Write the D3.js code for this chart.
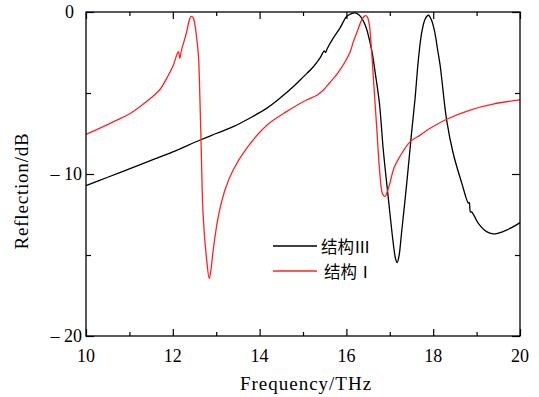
<!DOCTYPE html>
<html>
<head>
<meta charset="utf-8">
<script src="https://cdn.jsdelivr.net/npm/d3@7"></script>
<style>
  html, body { margin: 0; padding: 0; background: #fff; }
  svg { display: block; }
</style>
</head>
<body>
<svg id="chart" width="539" height="397"></svg>
<script>
// ---- data ----
const seriesNames = ["结构Ⅲ", "结构Ⅰ"];

const freqIII = [10, 10.5, 11, 11.5, 12, 12.63, 13.0, 13.39, 13.78, 14.16, 14.5, 14.78, 15.0, 15.24, 15.4, 15.49, 15.52, 15.56, 15.7, 15.85, 16.0, 16.1, 16.2, 16.3, 16.38, 16.46, 16.54, 16.6, 16.66, 16.76, 16.85, 16.97, 17.08, 17.13, 17.17, 17.21, 17.27, 17.39, 17.5, 17.58, 17.66, 17.74, 17.82, 17.89, 17.96, 18.04, 18.1, 18.16, 18.2, 18.31, 18.46, 18.66, 18.81, 18.83, 18.86, 18.89, 19.04, 19.23, 19.38, 19.5, 19.69, 19.85, 20];
const dbIII = [-10.72, -10.2, -9.68, -9.16, -8.64, -7.9, -7.5, -7.08, -6.54, -5.95, -5.25, -4.6, -4.02, -3.38, -2.8, -2.4, -2.5, -2.25, -1.6, -1.0, -0.29, -0.12, -0.05, -0.2, -0.5, -1.0, -1.83, -2.6, -3.68, -5.6, -8.52, -11.6, -14.28, -15.2, -15.47, -15.1, -13.66, -10.58, -7.49, -5.4, -2.9, -1.2, -0.4, -0.2, -0.5, -1.3, -2.3, -3.3, -4.2, -6.67, -8.72, -10.58, -11.8, -11.75, -12.35, -12.35, -13.05, -13.56, -13.7, -13.65, -13.46, -13.25, -13.0];

const freqI = [10, 10.5, 10.71, 11.0, 11.24, 11.5, 11.7, 11.9, 12.01, 12.09, 12.13, 12.16, 12.2, 12.26, 12.32, 12.37, 12.42, 12.47, 12.51, 12.55, 12.59, 12.61, 12.65, 12.7, 12.78, 12.84, 12.88, 12.93, 13.05, 13.2, 13.39, 13.7, 14.16, 14.62, 15.08, 15.31, 15.47, 15.62, 15.8, 16.08, 16.16, 16.25, 16.35, 16.41, 16.45, 16.49, 16.53, 16.58, 16.62, 16.66, 16.71, 16.77, 16.83, 16.89, 16.94, 17.0, 17.1, 17.23, 17.47, 17.7, 17.93, 18.31, 18.85, 19.38, 20];
const dbI = [-7.55, -6.95, -6.67, -6.3, -5.85, -5.3, -4.8, -3.89, -3.3, -2.65, -2.45, -2.86, -2.35, -1.8, -1.22, -0.6, -0.27, -0.35, -0.8, -1.6, -2.65, -3.89, -7.9, -12.6, -15.3, -16.45, -15.9, -14.7, -12.6, -11.0, -9.75, -8.42, -7.0, -6.15, -5.43, -5.15, -4.81, -4.35, -3.78, -2.5, -1.83, -1.2, -0.5, -0.27, -0.23, -0.35, -0.8, -2.4, -4.0, -5.6, -7.6, -9.96, -11.2, -11.4, -11.1, -10.58, -9.6, -8.93, -8.0, -7.6, -7.18, -6.62, -6.05, -5.68, -5.43];

const xMajorTicks = [10, 12, 14, 16, 18, 20];
const xMinorTicks = [11, 13, 15, 17, 19];
const yMajorTicks = [0, -10, -20];
const yMinorTicks = [-5, -15];
const yTickLabels = ["0", "\u2013 10", "\u2013 20"];

// ---- layout ----
const svg = d3.select("#chart");
const mLeft = 86, mRight = 520, mTop = 12, mBottom = 336;
const x = d3.scaleLinear().domain([10, 20]).range([mLeft, mRight]);
const y = d3.scaleLinear().domain([-20, 0]).range([mBottom, mTop]);
const serif = "Liberation Serif, DejaVu Serif, serif";

// curves
const line = d3.line().x(d => x(d[0])).y(d => y(d[1])).curve(d3.curveCatmullRom.alpha(0.5));
const dataIII = freqIII.map((f, i) => [f, dbIII[i]]);
const dataI = freqI.map((f, i) => [f, dbI[i]]);

const plot = svg.append("g");
plot.append("path").datum(dataIII).attr("d", line)
  .attr("fill", "none").attr("stroke", "#000").attr("stroke-width", 1.3);
plot.append("path").datum(dataI).attr("d", line)
  .attr("fill", "none").attr("stroke", "#f22").attr("stroke-width", 1.3);

// axes (inward ticks on all four sides)
function styleAxis(g) {
  g.select(".domain").remove();
  g.selectAll("text").remove();
  g.selectAll("line").attr("stroke", "#000").attr("stroke-width", 1.2);
}
svg.append("g").attr("transform", `translate(0,${mBottom})`)
  .call(d3.axisBottom(x).tickValues(xMajorTicks).tickSize(-7)).call(styleAxis);
svg.append("g").attr("transform", `translate(0,${mBottom})`)
  .call(d3.axisBottom(x).tickValues(xMinorTicks).tickSize(-4)).call(styleAxis);
svg.append("g").attr("transform", `translate(0,${mTop})`)
  .call(d3.axisTop(x).tickValues(xMajorTicks).tickSize(-7)).call(styleAxis);
svg.append("g").attr("transform", `translate(0,${mTop})`)
  .call(d3.axisTop(x).tickValues(xMinorTicks).tickSize(-4)).call(styleAxis);
svg.append("g").attr("transform", `translate(${mLeft},0)`)
  .call(d3.axisLeft(y).tickValues(yMajorTicks).tickSize(-8)).call(styleAxis);
svg.append("g").attr("transform", `translate(${mLeft},0)`)
  .call(d3.axisLeft(y).tickValues(yMinorTicks).tickSize(-5)).call(styleAxis);
svg.append("g").attr("transform", `translate(${mRight},0)`)
  .call(d3.axisRight(y).tickValues(yMajorTicks).tickSize(-8)).call(styleAxis);
svg.append("g").attr("transform", `translate(${mRight},0)`)
  .call(d3.axisRight(y).tickValues(yMinorTicks).tickSize(-5)).call(styleAxis);

svg.append("rect").attr("x", mLeft).attr("y", mTop)
  .attr("width", mRight - mLeft).attr("height", mBottom - mTop)
  .attr("fill", "none").attr("stroke", "#000").attr("stroke-width", 1.3);

// tick labels
svg.append("g").selectAll("text").data(xMajorTicks).join("text")
  .attr("font-family", serif).attr("font-size", 18)
  .attr("x", d => x(d)).attr("y", 362)
  .attr("text-anchor", "middle")
  .text(d => d);
svg.append("g").selectAll("text").data(yMajorTicks).join("text")
  .attr("font-family", serif).attr("font-size", 18)
  .attr("x", d => d === 0 ? mLeft - 12 : mLeft - 4)
  .attr("y", d => y(d)).attr("dy", "0.35em")
  .attr("text-anchor", "end")
  .text((d, i) => yTickLabels[i]);

// axis titles
svg.append("text").attr("font-family", serif).attr("font-size", 19)
  .attr("x", (mLeft + mRight) / 2 + 3).attr("y", 390)
  .attr("text-anchor", "middle")
  .style("letter-spacing", "1px")
  .text("Frequency/THz");
svg.append("text").attr("font-family", serif).attr("font-size", 19)
  .attr("transform", `translate(28,${(mTop + mBottom) / 2 + 17}) rotate(-90)`)
  .attr("text-anchor", "middle")
  .style("letter-spacing", "0.8px")
  .text("Reflection/dB");

// legend
const legendColors = ["#000", "#f22"];
const legendY = [246, 271];
const lg = svg.append("g");
seriesNames.forEach((name, i) => {
  lg.append("line").attr("x1", 273).attr("x2", 317)
    .attr("y1", legendY[i]).attr("y2", legendY[i])
    .attr("stroke", legendColors[i]).attr("stroke-width", 1.3);
  lg.append("text").attr("font-family", "Noto Sans CJK SC").attr("font-size", 16.5)
    .attr("x", i === 0 ? 321 : 324).attr("y", legendY[i] + 1)
    .attr("dy", "0.35em")
    .text(name);
});
</script>
</body>
</html>
